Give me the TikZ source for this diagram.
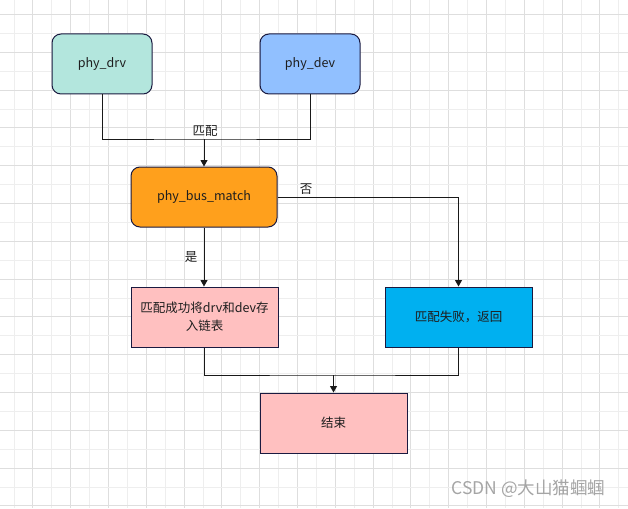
\documentclass[tikz,border=0pt]{standalone}
\usepackage{fontspec}
\setmainfont{Noto Sans CJK SC}
\usetikzlibrary{arrows.meta}
\definecolor{drvfill}{RGB}{179,230,221}
\definecolor{devfill}{RGB}{145,192,255}
\definecolor{orangefill}{RGB}{255,160,28}
\definecolor{pinkfill}{RGB}{255,192,192}
\definecolor{bluefill}{RGB}{0,176,240}
\definecolor{edge}{RGB}{26,26,64}
\definecolor{txt}{RGB}{30,30,30}
\definecolor{gridlight}{RGB}{238,238,238}
\definecolor{griddark}{RGB}{222,222,222}
\definecolor{wm}{RGB}{165,165,165}
\tikzset{
  box/.style={draw=edge, line width=1pt, inner sep=0pt, text=txt,
    font=\fontsize{12.5}{18}\selectfont, align=center},
  rbox/.style={box, rounded corners=9pt},
  conn/.style={draw=black!90, line width=1pt},
  arr/.style={conn, -{Triangle[width=7pt,length=6.5pt]}},
  lbl/.style={text=txt, font=\fontsize{12.5}{15}\selectfont, inner sep=0pt}
}
\begin{document}
\begin{tikzpicture}[x=1pt,y=-1pt]
  \fill[white] (0,0) rectangle (628,508);
  \useasboundingbox (0,0) rectangle (628,508);
  % grid
  \foreach \k in {0,...,32}{
    \pgfmathparse{mod(\k,2)==1 ? "griddark" : "gridlight"}
    \edef\gc{\pgfmathresult}
    \draw[\gc, line width=0.9pt] ({14+18.9*\k},0) -- ({14+18.9*\k},508);
  }
  \foreach \k in {0,...,26}{
    \pgfmathparse{mod(\k,2)==0 ? "griddark" : "gridlight"}
    \edef\gc{\pgfmathresult}
    \draw[\gc, line width=0.9pt] (0,{14.5+18.9*\k}) -- (628,{14.5+18.9*\k});
  }
  % nodes
  \node[rbox, fill=drvfill, minimum width=100pt, minimum height=60pt] (drv) at (102,64) {phy\_drv};
  \node[rbox, fill=devfill, minimum width=100pt, minimum height=60pt] (dev) at (310,64) {phy\_dev};
  \node[rbox, fill=orangefill, minimum width=146pt, minimum height=60pt] (match) at (204,197) {phy\_bus\_match};
  \node[box, fill=pinkfill, minimum width=147pt, minimum height=60pt, text width=140pt] (succ) at (204.5,317) {匹配成功将drv和dev存\\入链表};
  \node[box, fill=bluefill, minimum width=147pt, minimum height=60pt] (fail) at (458.5,317) {匹配失败，返回};
  \node[box, fill=pinkfill, minimum width=147pt, minimum height=60pt] (end) at (333.5,423) {结束};
  % connectors
  \coordinate (j1) at (204,139);
  \draw[conn] (drv.south) |- (j1) -| (dev.south);
  \draw[arr] (j1) -- (match.north);
  \node[lbl] (lmatch) at (205,131) {匹配};
  \draw[arr] (match.east) -| (fail.north);
  \node[lbl] (lno) at (306,189) {否};
  \draw[arr] (match.south) -- (succ.north -| match.south);
  \node[lbl] (lyes) at (191,257) {是};
  \coordinate (j2) at (333.5,375);
  \draw[conn] (succ.south) |- (j2) -| (fail.south);
  \draw[arr] (j2) -- (end.north);
  % watermark
  \node[text=wm, font=\fontsize{17.5}{20}\selectfont, inner sep=0pt] (wmark) at (528.5,489) {CSDN @大山猫蝈蝈};
\end{tikzpicture}
\end{document}
